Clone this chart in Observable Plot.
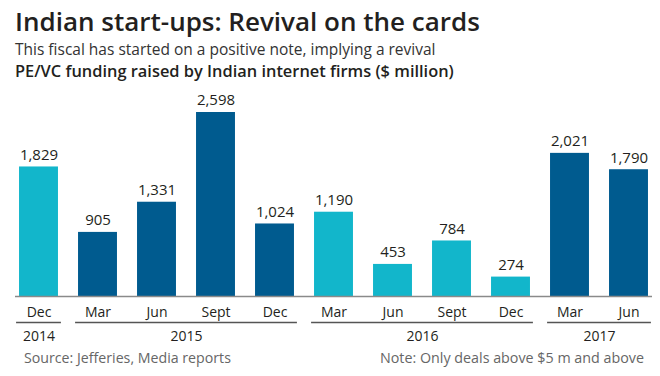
<!DOCTYPE html>
<html>
<head>
<meta charset="utf-8">
<script src="https://cdn.jsdelivr.net/npm/d3@7"></script>
<script src="https://cdn.jsdelivr.net/npm/@observablehq/plot@0.6"></script>
<style>
  html, body { margin: 0; padding: 0; background: #fff; }
  #wrap { position: relative; width: 660px; height: 376px; overflow: hidden; font-family: "Open Sans", sans-serif; color: #231f20; }
  .abs { position: absolute; white-space: nowrap; line-height: 1; }
  #title { left: 15px; top: 8px; font-size: 26px; font-weight: 600; }
  #sub { left: 15px; top: 42px; font-size: 15.5px; color: #333; }
  #label { left: 15px; top: 63px; font-size: 16.4px; font-weight: 600; }
  #chart { left: 0; top: 88px; }
  #source { left: 24px; top: 351px; font-size: 14.2px; color: #666; }
  #note { right: 16px; top: 351px; font-size: 14.3px; color: #666; }
</style>
</head>
<body>
<div id="wrap">
  <div id="title" class="abs">Indian start-ups: Revival on the cards</div>
  <div id="sub" class="abs">This fiscal has started on a positive note, implying a revival</div>
  <div id="label" class="abs">PE/VC funding raised by Indian internet firms ($ million)</div>
  <div id="chart" class="abs"></div>
  <div id="source" class="abs">Source: Jefferies, Media reports</div>
  <div id="note" class="abs">Note: Only deals above $5 m and above</div>
</div>
<script>
// Data
const months = ["Dec", "Mar", "Jun", "Sept", "Dec", "Mar", "Jun", "Sept", "Dec", "Mar", "Jun"];
const years  = ["2014", "2015", "2015", "2015", "2015", "2016", "2016", "2016", "2016", "2017", "2017"];
const values = [1829, 905, 1331, 2598, 1024, 1190, 453, 784, 274, 2021, 1790];
const highlight = ["light", "dark", "dark", "dark", "dark", "light", "light", "light", "light", "dark", "dark"];
const yearLabels = ["2014", "2015", "2016", "2017"];

const colors = { light: "#12b6cb", dark: "#005b8f" };

const data = values.map((v, i) => ({ i, month: months[i], year: years[i], value: v, tone: highlight[i] }));
const groups = yearLabels.map(y => {
  const idx = data.filter(d => d.year === y).map(d => d.i);
  return { year: y, first: d3.min(idx), last: d3.max(idx) };
});

const half = 0.33;
const fmt = d3.format(",");

const chart = Plot.plot({
  width: 660,
  height: 260,
  marginLeft: 9,
  marginRight: 2,
  marginTop: 24,
  marginBottom: 52,
  x: { domain: [-0.5, data.length - 0.5], axis: null },
  y: { domain: [0, d3.max(values)], axis: null },
  color: { domain: ["light", "dark"], range: [colors.light, colors.dark] },
  style: { fontFamily: "'Open Sans', sans-serif", color: "#231f20" },
  marks: [
    Plot.rectY(data, { x1: d => d.i - half, x2: d => d.i + half, y: "value", fill: "tone" }),
    Plot.ruleY([0], { stroke: "#8a8a8a", strokeWidth: 1.5, insetLeft: 6, insetRight: 6 }),
    Plot.text(data, { x: "i", y: "value", text: d => fmt(d.value), dy: -12, fontSize: 15, fill: "#231f20" }),
    Plot.text(data, { x: "i", y: 0, text: "month", dy: 16, fontSize: 14, fill: "#231f20" }),
    Plot.ruleY(groups, { y: 0, x1: d => d.first - half - 0.05, x2: d => d.last + half + 0.05, dy: 26, stroke: "#555", strokeWidth: 1.5 }),
    Plot.text(groups, { x: d => (d.first + d.last) / 2, y: 0, text: "year", dy: 40, fontSize: 14, fill: "#231f20" })
  ]
});
document.getElementById("chart").appendChild(chart);
</script>
</body>
</html>
